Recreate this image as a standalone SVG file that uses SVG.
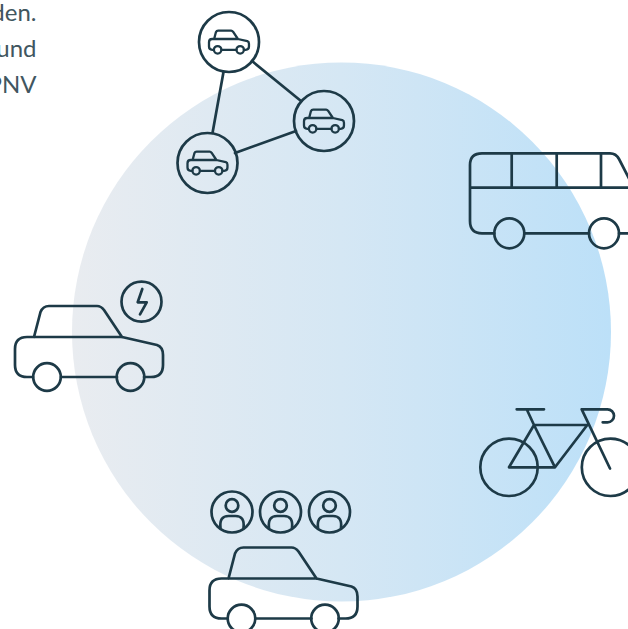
<svg xmlns="http://www.w3.org/2000/svg" xmlns:xlink="http://www.w3.org/1999/xlink" width="628" height="629" viewBox="0 0 628 629">
<style>
.l{fill:none;stroke:#1d3a47;stroke-width:2.7;stroke-linecap:round;stroke-linejoin:round}
.t{font-family:Lato,"Open Sans",sans-serif;font-size:24px;fill:#41565f;text-anchor:end}
</style>
<defs>
<linearGradient id="g" x1="0" x2="1" y1="0" y2="0"><stop offset="0" stop-color="#e9ecf0"/><stop offset=".5" stop-color="#d5e7f4"/><stop offset="1" stop-color="#bce0f8"/></linearGradient>
<g id="car">
<path d="M18,40H12Q0,40 0,28V12Q0,0 12,0H107L142,8Q148,10 148,18V28Q148,40 136,40H129M46,40H102M19,0L25.5,-25Q28,-31 34,-31H82Q86,-31 89,-27L107,0"/>
<circle cx="32" cy="40" r="13.8"/><circle cx="115.5" cy="40" r="13.8"/>
</g>
<g id="mini">
<circle r="30"/>
<g transform="translate(-20,-3) scale(.27)" style="stroke-width:8.5"><use xlink:href="#car" href="#car"/></g>
</g>
<g id="person">
<circle r="20.5"/><circle cy="-6.5" r="6.3"/>
<path d="M-11.5,16Q-13,4 -3.5,4H3.5Q13,4 11.5,16"/>
</g>
</defs>
<circle id="disc" cx="341.5" cy="332" r="269.5" fill="url(#g)"/>
<g id="caption">
<text class="t" x="36.5" y="21">den.</text>
<text class="t" x="36.5" y="57">und</text>
<text class="t" x="36.5" y="92.5">ÖPNV</text>
</g>
<g id="connectors" class="l">
<path d="M223.5,72L212.5,133M252,61L301,101M235,153L296,131"/>
</g>
<g id="shared-top" class="l"><use xlink:href="#mini" href="#mini" x="229" y="42"/></g>
<g id="shared-right" class="l"><use xlink:href="#mini" href="#mini" x="324" y="121"/></g>
<g id="shared-left" class="l"><use xlink:href="#mini" href="#mini" x="207.5" y="163"/></g>
<g id="bus" class="l">
<path d="M494.3,233.3H482Q470,233.3 470,221V165Q470,153.3 482,153.3H610Q616,153.3 619,159L640,200M470,187.7H628M511.7,153.3V187.7M556.7,153.3V187.7M601,153.3V187.7M524.3,233.3H589M619,233.3H628"/>
<circle cx="509.3" cy="233.3" r="15"/><circle cx="604" cy="233.3" r="15"/>
</g>
<g id="bike" class="l">
<circle cx="509" cy="467.3" r="28.7"/><circle cx="610.5" cy="467.3" r="28.7"/>
<path d="M509,467.3L534,425L555,467.3ZM534,425H587.3L555,467.3M534,425L526.7,409.3M516.7,409.3H544M610,468.5L581.7,409.3H607.5A6.5,6.5 0 0 1 607.5,422.3H602.7"/>
</g>
<g id="carpool" class="l">
<use xlink:href="#person" href="#person" x="232" y="512"/>
<use xlink:href="#person" href="#person" x="280.5" y="512"/>
<use xlink:href="#person" href="#person" x="329.5" y="512"/>
<use xlink:href="#car" href="#car" x="209.5" y="578.5"/>
</g>
<g id="ecar" class="l">
<use xlink:href="#car" href="#car" x="15" y="337"/>
<circle cx="141.5" cy="301.7" r="20"/>
<path d="M142.3,289L137.7,302.3H146.7L140,314.3"/>
</g>
</svg>
